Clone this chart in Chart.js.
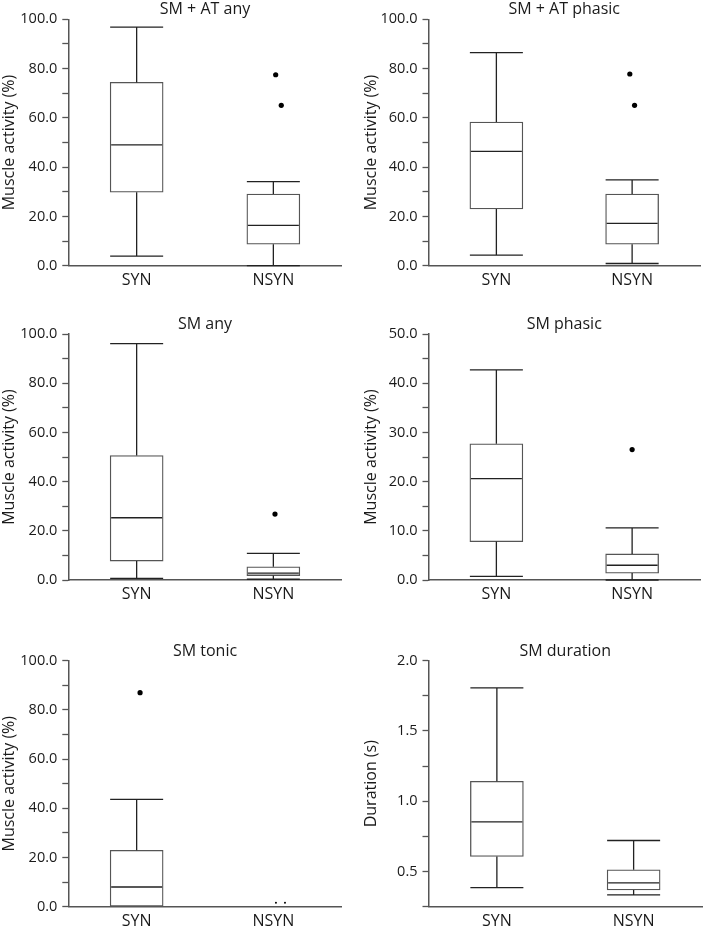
<!DOCTYPE html>
<html lang="en">
<head>
<meta charset="UTF-8">
<title>Muscle activity box plots</title>
<script src="https://cdn.jsdelivr.net/npm/chart.js"></script>
<style>
    body { margin: 0; background: #fff; }
    #wrap { position: relative; width: 704px; height: 928px; overflow: hidden; }
    #wrap canvas { position: absolute; }
</style>
</head>
<body>
<div id="wrap"></div>

<script>
    // panels, left to right, top to bottom
    var panelTitles = ['SM + AT any', 'SM + AT phasic', 'SM any', 'SM phasic', 'SM tonic', 'SM duration'];
    var yTitles = ['Muscle activity (%)', 'Muscle activity (%)', 'Muscle activity (%)',
                   'Muscle activity (%)', 'Muscle activity (%)', 'Duration (s)'];
    var groups = ['SYN', 'NSYN'];

    // box statistics per panel: [SYN, NSYN]
    var mins    = [[3.9, 0.0], [4.3, 0.9], [0.7, 0.3], [0.74, 0.0], [0.0, null], [0.386, 0.334]];
    var q1s     = [[29.8, 8.7], [23.0, 8.7], [7.7, 1.8], [7.8, 1.4], [0.0, null], [0.607, 0.369]];
    var medians = [[49.0, 16.4], [46.4, 17.2], [25.3, 2.8], [20.6, 3.0], [8.0, null], [0.854, 0.419]];
    var q3s     = [[74.4, 29.1], [58.3, 29.1], [50.6, 5.4], [27.7, 5.3], [22.9, null], [1.142, 0.512]];
    var maxs    = [[96.8, 34.1], [86.5, 34.8], [96.1, 10.8], [42.7, 10.6], [43.6, null], [1.807, 0.721]];

    // outliers (x = group position, slightly jittered)
    var outlierX = [[2.017, 2.058], [1.983, 2.018], [2.012], [2.0], [1.025], []];
    var outlierY = [[77.5, 65.1], [77.8, 65.1], [26.8], [26.5], [87.0], []];
    var smallX = [[], [], [], [], [2.019, 2.085], []];
    var smallY = [[], [], [], [], [1.6, 1.6], []];

    // y axis ranges
    var yMin = [0, 0, 0, 0, 0, 0.25];
    var yMax = [100, 100, 100, 50, 100, 2.0];
    var yStep = [10, 10, 10, 5, 10, 0.25];
    var yLabelStep = [20, 20, 20, 10, 20, 0.5];

    // page layout
    var rowTop = [0, 300, 610];
    var rowHeight = [300, 310, 318];
    var plotTop = [19.3, 34, 50.7];
    var plotBottom = [34.3, 30, 21.3];
    var boxWidth = 53;

    Chart.defaults.font.family = "'Open Sans', sans-serif";
    Chart.defaults.color = '#1a1a1a';

    var boxLines = {
        id: 'boxLines',
        afterDatasetsDraw: function(chart, args, opts) {
            var p = opts.panel;
            var ctx = chart.ctx;
            var x = chart.scales.x, y = chart.scales.y;
            var hw = boxWidth / 2;
            ctx.save();
            ctx.lineWidth = 1.3;
            ctx.strokeStyle = '#222';
            groups.forEach(function(g, i) {
                if (medians[p][i] == null) return;
                var cx = x.getPixelForValue(i + 1);
                var yLo = y.getPixelForValue(mins[p][i]);
                var yQ1 = y.getPixelForValue(q1s[p][i]);
                var yMed = y.getPixelForValue(medians[p][i]);
                var yQ3 = y.getPixelForValue(q3s[p][i]);
                var yHi = y.getPixelForValue(maxs[p][i]);
                ctx.beginPath();
                ctx.moveTo(cx, yQ3); ctx.lineTo(cx, yHi);
                ctx.moveTo(cx - hw, yHi); ctx.lineTo(cx + hw, yHi);
                if (mins[p][i] < q1s[p][i]) {
                    ctx.moveTo(cx, yQ1); ctx.lineTo(cx, yLo);
                    ctx.moveTo(cx - hw, yLo); ctx.lineTo(cx + hw, yLo);
                }
                ctx.moveTo(cx - hw + 1, yMed); ctx.lineTo(cx + hw - 1, yMed);
                ctx.stroke();
            });
            ctx.restore();
        },
        afterDraw: function(chart, args, opts) {
            var a = chart.chartArea;
            var ctx = chart.ctx;
            ctx.save();
            ctx.font = "16px 'Open Sans', sans-serif";
            ctx.fillStyle = '#1a1a1a';
            ctx.textAlign = 'center';
            ctx.textBaseline = 'middle';
            ctx.fillText(panelTitles[opts.panel], (a.left + a.right) / 2, a.top - 9.5);
            ctx.restore();
        }
    };

    function makePanel(p) {
        var row = Math.floor(p / 2), col = p % 2;
        var canvas = document.createElement('canvas');
        canvas.width = 352;
        canvas.height = rowHeight[row];
        canvas.style.left = (col * 352) + 'px';
        canvas.style.top = rowTop[row] + 'px';
        document.getElementById('wrap').appendChild(canvas);

        var boxes = [];
        groups.forEach(function(g, i) {
            if (q1s[p][i] != null) boxes.push({ x: i + 1, y: [q1s[p][i], q3s[p][i]] });
        });
        var outs = outlierX[p].map(function(v, k) { return { x: v, y: outlierY[p][k] }; });
        var smalls = smallX[p].map(function(v, k) { return { x: v, y: smallY[p][k] }; });

        new Chart(canvas.getContext('2d'), {
            type: 'bar',
            data: {
                datasets: [{
                    data: boxes,
                    backgroundColor: '#fff',
                    borderColor: '#555',
                    borderWidth: 1.3,
                    borderSkipped: false,
                    barThickness: boxWidth
                }, {
                    type: 'scatter',
                    data: outs,
                    pointRadius: 2.6,
                    pointBackgroundColor: '#000',
                    pointBorderWidth: 0
                }, {
                    type: 'scatter',
                    data: smalls,
                    pointRadius: 1,
                    pointBackgroundColor: '#000',
                    pointBorderWidth: 0
                }]
            },
            options: {
                responsive: false,
                animation: false,
                events: [],
                layout: { padding: { top: plotTop[row], bottom: 0, left: 0, right: col ? 2 : 10.3 } },
                plugins: {
                    legend: { display: false },
                    tooltip: { enabled: false },
                    boxLines: { panel: p }
                },
                scales: {
                    x: {
                        type: 'linear',
                        min: 0.5,
                        max: 2.5,
                        offset: false,
                        grid: { display: true, offset: false, drawOnChartArea: false, drawTicks: false },
                        border: { color: '#555', width: 1.5 },
                        afterBuildTicks: function(s) {
                            s.ticks = groups.map(function(g, i) { return { value: i + 1 }; });
                        },
                        afterFit: function(s) { s.height = plotBottom[row]; },
                        ticks: {
                            autoSkip: false,
                            maxRotation: 0,
                            padding: 5,
                            font: { size: 16 },
                            callback: function(v) { return groups[Math.round(v) - 1]; }
                        }
                    },
                    y: {
                        min: yMin[p],
                        max: yMax[p],
                        grid: { drawOnChartArea: false, drawTicks: true, tickLength: 6, tickColor: '#555', tickWidth: 1.3 },
                        border: { color: '#555', width: 1.5 },
                        afterFit: function(s) { s.width = col ? 76.5 : 68.3; },
                        title: {
                            display: true,
                            text: yTitles[p],
                            font: { size: 16 },
                            padding: { top: col ? 10 : 0, bottom: 0 }
                        },
                        ticks: {
                            stepSize: yStep[p],
                            autoSkip: false,
                            padding: 5,
                            font: { size: 14.5 },
                            callback: function(v) {
                                var r = v / yLabelStep[p];
                                return Math.abs(r - Math.round(r)) < 1e-6 ? v.toFixed(1) : '';
                            }
                        }
                    }
                }
            },
            plugins: [boxLines]
        });
    }

    for (var p = 0; p < panelTitles.length; p++) makePanel(p);
</script>
</body>
</html>
